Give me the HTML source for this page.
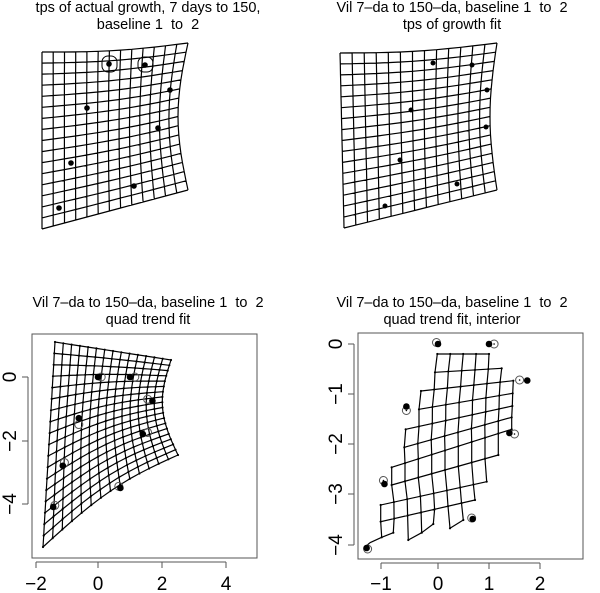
<!DOCTYPE html>
<html><head><style>
body{margin:0;background:#fff;width:600px;height:593px;overflow:hidden}
svg{display:block}
text{font-family:"Liberation Sans",Arial,sans-serif;fill:#000;white-space:pre}
</style></head><body>
<svg id="s" width="600" height="593" xmlns="http://www.w3.org/2000/svg" xml:space="preserve">
<g font-size="14.5" text-anchor="middle">
<text x="148" y="12">tps of actual growth, 7 days to 150,</text>
<text x="148" y="29">baseline 1  to  2</text>
<text x="452" y="12">Vil 7–da to 150–da, baseline 1  to  2</text>
<text x="452" y="29">tps of growth fit</text>
<text x="148" y="307">Vil 7–da to 150–da, baseline 1  to  2</text>
<text x="148" y="324">quad trend fit</text>
<text x="452" y="307">Vil 7–da to 150–da, baseline 1  to  2</text>
<text x="452" y="324">quad trend fit, interior</text>
</g>
<rect x="32" y="334" width="225" height="224" fill="none" stroke="#555" stroke-width="1"/>
<rect x="358" y="333" width="225" height="226" fill="none" stroke="#555" stroke-width="1"/>
<g stroke="#555" stroke-width="1">
<line x1="36" y1="562" x2="226" y2="562"/>
<line x1="36" y1="562" x2="36" y2="568"/><line x1="98" y1="562" x2="98" y2="568"/><line x1="162" y1="562" x2="162" y2="568"/><line x1="226" y1="562" x2="226" y2="568"/>
<line x1="28" y1="377" x2="28" y2="504"/>
<line x1="28" y1="377" x2="22" y2="377"/><line x1="28" y1="441" x2="22" y2="441"/><line x1="28" y1="504" x2="22" y2="504"/>
<line x1="381" y1="563" x2="540" y2="563"/>
<line x1="381" y1="563" x2="381" y2="569"/><line x1="438" y1="563" x2="438" y2="569"/><line x1="489" y1="563" x2="489" y2="569"/><line x1="540" y1="563" x2="540" y2="569"/>
<line x1="354" y1="344" x2="354" y2="545"/>
<line x1="354" y1="344" x2="348" y2="344"/><line x1="354" y1="394" x2="348" y2="394"/><line x1="354" y1="444" x2="348" y2="444"/><line x1="354" y1="494" x2="348" y2="494"/><line x1="354" y1="545" x2="348" y2="545"/>
</g>
<g font-size="19" text-anchor="middle">
<text x="36" y="590">−2</text><text x="98" y="590">0</text><text x="162" y="590">2</text><text x="226" y="590">4</text>
<text x="381" y="590">−1</text><text x="438" y="590">0</text><text x="489" y="590">1</text><text x="540" y="590">2</text>
<text transform="translate(16,377) rotate(-90)">0</text>
<text transform="translate(16,441) rotate(-90)">−2</text>
<text transform="translate(16,504) rotate(-90)">−4</text>
<text transform="translate(342,344) rotate(-90)">0</text>
<text transform="translate(342,394) rotate(-90)">−1</text>
<text transform="translate(342,444) rotate(-90)">−2</text>
<text transform="translate(342,494) rotate(-90)">−3</text>
<text transform="translate(342,545) rotate(-90)">−4</text>
</g>
<g id="g"></g>
</svg>
<script>
var out='';
function bil(c,u,v,w){var x=(1-u)*(1-v)*c[0][0]+u*(1-v)*c[1][0]+u*v*c[2][0]+(1-u)*v*c[3][0];
var y=(1-u)*(1-v)*c[0][1]+u*(1-v)*c[1][1]+u*v*c[2][1]+(1-u)*v*c[3][1];
if(w){var d=w(u,v);x+=d[0];y+=d[1];}return [x,y];}
function grid(c,nu,nv,w,dots){
 var p='';
 for(var j=0;j<=nv;j++){var s='M';for(var i=0;i<=nu;i++){var q=bil(c,i/nu,j/nv,w);s+=q[0].toFixed(1)+' '+q[1].toFixed(1)+(i<nu?' L':'');
  if(dots)out+='<circle cx="'+q[0].toFixed(1)+'" cy="'+q[1].toFixed(1)+'" r="1.1"/>';}p+=s;}
 for(var i=0;i<=nu;i++){var s='M';for(var j=0;j<=nv;j++){var q=bil(c,i/nu,j/nv,w);s+=q[0].toFixed(1)+' '+q[1].toFixed(1)+(j<nv?' L':'');}p+=s;}
 out+='<path d="'+p+'" fill="none" stroke="#000" stroke-width="1.2"/>';
}
grid([[42,52],[188,43],[188,190],[42,229]],13,16,function(u,v){return [-10*Math.sin(Math.PI*v)*Math.pow(u,3),3*Math.sin(Math.PI*u)*(1-v)];});
grid([[340,53],[497,43],[497,190],[344,228]],13,16,function(u,v){return [-7*Math.sin(Math.PI*v)*Math.pow(u,3),3*Math.sin(Math.PI*u)*(1-v)];});
grid([[55,342],[171,360],[178,455],[43,547]],14,18,function(u,v){return [-12*Math.sin(Math.PI*v)*u,-10*Math.sin(Math.PI*u)*v];},true);
function dot(x,y,r){out+='<circle cx="'+x+'" cy="'+y+'" r="'+(r||3.3)+'"/>';}
function ring(x,y,r){out+='<circle cx="'+x+'" cy="'+y+'" r="'+(r||4)+'" fill="none" stroke="#555"/>';}
[[109,64],[145,65],[170,90],[87,108],[158,128],[71,163],[134,186],[59,208]].forEach(function(p){dot(p[0],p[1],2.8)});
out+='<rect x="102" y="56" width="15" height="16" rx="6" fill="none" stroke="#000"/><rect x="138" y="57" width="15" height="15" rx="6" fill="none" stroke="#000"/>';
[[433,63],[472,65],[487,90],[411,110],[486,127],[400,160],[457,184],[385,206]].forEach(function(p){dot(p[0],p[1],2.5)});
function bl(x,y){return [98+x*32,377-y*31.7];}
[[0,0,0.1,0],[1,0,1.15,0],[1.7,-0.75,1.55,-0.7],[-0.6,-1.3,-0.6,-1.5],[1.4,-1.8,1.55,-1.75],[-1.1,-2.8,-1.05,-2.7],[0.7,-3.5,0.65,-3.45],[-1.4,-4.1,-1.35,-4.05]].forEach(function(p){var a=bl(p[2],p[3]);ring(a[0],a[1]);var b=bl(p[0],p[1]);dot(b[0],b[1]);});
// bottom-right lattice
var R=[[0,4,232,42,387,42],[0,5,225,97,425,85],[-1,6,183,153,460,122],[-1,6,177,208,458,160],[-2,6,137,268,457,198],[-2,6,133,322,455,232],[-3,6,95,382,455,268],[-3,5,95,435,415,345],[-4,4,62,495,380,425],[-4,3,62,545,345,480]];
function P(i,j){var r=R[j];var t=(i-r[0])/(r[1]-r[0]);return [360+(r[2]+t*(r[4]-r[2]))/3,340+(r[3]+t*(r[5]-r[3]))/3];}
var B={'-4':[381.7,537.3],'-3':[393.3,532.7],'-2':[408.3,540],'-1':[421.7,532.7],'0':[433.3,524],'1':[450,528.3],'2':[463.3,520]};
var p='';
function L(a,b){p+='M'+a[0].toFixed(1)+' '+a[1].toFixed(1)+'L'+b[0].toFixed(1)+' '+b[1].toFixed(1);}
for(var j=0;j<R.length;j++){L(P(R[j][0],j),P(R[j][1],j));
 for(var i=R[j][0];i<=R[j][1];i++){var q=P(i,j);out+='<circle cx="'+q[0]+'" cy="'+q[1]+'" r="1.1"/>';
  if(j+1<R.length){if(i>=R[j+1][0]&&i<=R[j+1][1])L(q,P(i,j+1));}
  else if(B[i])L(q,B[i]);}}
for(var k in B)out+='<circle cx="'+B[k][0]+'" cy="'+B[k][1]+'" r="1.1"/>';
L(B['-4'],B['-3']);L(B['-2'],B['-1']);L(B['-1'],B['0']);L(B['1'],B['2']);
L(B['-4'],[370,542.7]);L([370,542.7],[365,547]);
out+='<path d="'+p+'" fill="none" stroke="#000" stroke-width="1.2"/>';
function br(x,y){return [438+x*51,344-y*50];}
[[0,0,-0.03,0.03],[1,0,1.1,0],[1.75,-0.73,1.6,-0.72],[-0.62,-1.25,-0.62,-1.33],[1.4,-1.78,1.5,-1.8],[-1.05,-2.8,-1.07,-2.73],[0.68,-3.5,0.66,-3.48],[-1.4,-4.08,-1.38,-4.1]].forEach(function(p){var a=br(p[2],p[3]);ring(a[0],a[1]);var b=br(p[0],p[1]);dot(b[0],b[1]);out+='<circle cx="'+a[0]+'" cy="'+a[1]+'" r="0.8"/>';});
document.getElementById('g').innerHTML=out;
</script>
</body></html>
